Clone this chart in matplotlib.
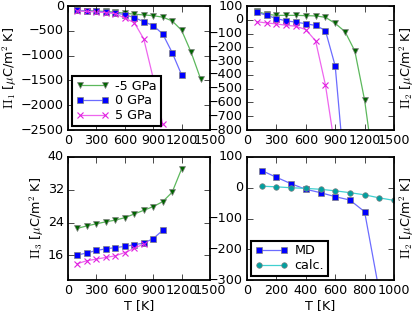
import matplotlib
matplotlib.use('Agg')
import matplotlib.pyplot as plt

plt.style.use('classic')
plt.rcParams['figure.facecolor'] = 'white'
plt.rcParams['savefig.facecolor'] = 'white'
plt.rcParams['font.size'] = 9.2
plt.rcParams['mathtext.fontset'] = 'cm'

# temperatures [K]
T_m5 = [100, 200, 300, 400, 500, 600, 700, 800, 900, 1000, 1100, 1200, 1300, 1400]
T_0 = [100, 200, 300, 400, 500, 600, 700, 800, 900, 1000, 1100, 1200]
T_p5 = [100, 200, 300, 400, 500, 600, 700, 800, 900, 1000]

# Pi_1
p1_m5 = [-90, -95, -100, -110, -125, -145, -165, -180, -195, -225, -300, -490, -930, -1465]
p1_0 = [-90, -100, -110, -120, -140, -175, -235, -315, -395, -562, -938, -1388]
p1_p5 = [-100, -110, -120, -135, -155, -245, -335, -662, -1455, -2385]

# Pi_2
p2_m5 = [61, 40, 32, 32, 32, 30, 28, 18, -26, -86, -226, -583, -1100]
p2_0 = [54, 33, 9, -8, -17, -29, -41, -78, -335, -1140]
p2_p5 = [-14, -23, -30, -40, -47, -71, -153, -472, -940]

# Pi_3
p3_m5 = [22.6, 23.2, 23.7, 24.2, 24.6, 25.2, 26.1, 27.0, 27.9, 29.1, 31.4, 37.1]
p3_0 = [16.1, 16.6, 17.2, 17.6, 17.9, 18.2, 18.6, 19.0, 20.1, 22.1]
p3_p5 = [14.0, 14.7, 15.1, 15.5, 15.9, 16.7, 17.7, 18.8]

# Pi_2 comparison
T_md = [100, 200, 300, 400, 500, 600, 700, 800, 900, 1000]
p2_md = [56, 34, 13, -5, -16, -29, -40, -78, -338, -1140]
T_calc = [100, 200, 300, 400, 500, 600, 700, 800, 900, 1000]
p2_calc = [5, 3, 0, -2, -5, -10, -16, -23, -33, -41]

ylab = r'$\Pi_%d$ [$\mu$C/m$^2$ K]'

def series(ax, T, y, col, lcol, mk, ms, label=None):
    ax.plot(T, y, '-', color=lcol, lw=0.9, marker=mk, mfc=col, mec=col if mk == 'x' else '0.5',
            mew=0.8 if mk == 'x' else 0.5, ms=ms, label=label)

fig = plt.figure(figsize=(4.15, 3.12), dpi=100)
W, H = 415.0, 312.0
ax1 = fig.add_axes([68/W, 1-130/H, 142/W, 124/H])
ax2 = fig.add_axes([247/W, 1-130/H, 147/W, 124/H])
ax3 = fig.add_axes([68/W, 1-280/H, 142/W, 123/H])
ax4 = fig.add_axes([247/W, 1-280/H, 147/W, 123/H])

for ax, a, b, c in [(ax1, p1_m5, p1_0, p1_p5), (ax2, p2_m5, p2_0, p2_p5), (ax3, p3_m5, p3_0, p3_p5)]:
    series(ax, T_m5[:len(a)], a, '#006400', '#5cb85c', 'v', 5, '-5 GPa')
    series(ax, T_0[:len(b)], b, '#0000ff', '#6c6cff', 's', 5, '0 GPa')
    series(ax, T_p5[:len(c)], c, '#e020e0', '#ee66ee', 'x', 5, '5 GPa')
    ax.set_xlim(0, 1500)
    ax.set_xticks([0, 300, 600, 900, 1200, 1500])

ax1.set_ylim(-2500, 0)
ax1.set_yticks([-2500, -2000, -1500, -1000, -500, 0])
ax1.set_ylabel(ylab % 1, labelpad=1)
leg = ax1.legend(loc='lower left', numpoints=2, fontsize=9.2, handlelength=2.6,
                 borderpad=0.3, labelspacing=0.15, handletextpad=0.5, borderaxespad=0.3)
leg.get_frame().set_linewidth(1.5)

ax2.set_ylim(-800, 100)
ax2.set_yticks(range(-800, 101, 100))
ax2.yaxis.set_label_position('right')
ax2.set_ylabel(ylab % 2, labelpad=3)

ax3.set_ylim(10, 40)
ax3.set_yticks([16, 24, 32, 40])
ax3.set_ylabel(ylab % 3, labelpad=1)
ax3.set_xlabel('T [K]', labelpad=1)

series(ax4, T_md, p2_md, '#0000ff', '#6c6cff', 's', 5, 'MD')
series(ax4, T_calc, p2_calc, '#00a0a0', '#40d0d0', 'o', 4, 'calc.')
ax4.set_xlim(0, 1000)
ax4.set_ylim(-300, 100)
ax4.set_yticks([-300, -200, -100, 0, 100])
ax4.yaxis.set_label_position('right')
ax4.set_ylabel(ylab % 2, labelpad=3)
ax4.set_xlabel('T [K]', labelpad=1)
leg4 = ax4.legend(loc='lower left', numpoints=2, fontsize=9.2, handlelength=2.6,
                  borderpad=0.3, labelspacing=0.15, handletextpad=0.5, borderaxespad=0.3)
leg4.get_frame().set_linewidth(1.5)

for ax in (ax1, ax2, ax3, ax4):
    for s in ax.spines.values():
        s.set_linewidth(1.3)
    ax.tick_params(labelsize=9.2, pad=3)

fig.savefig('out.png', dpi=100)
